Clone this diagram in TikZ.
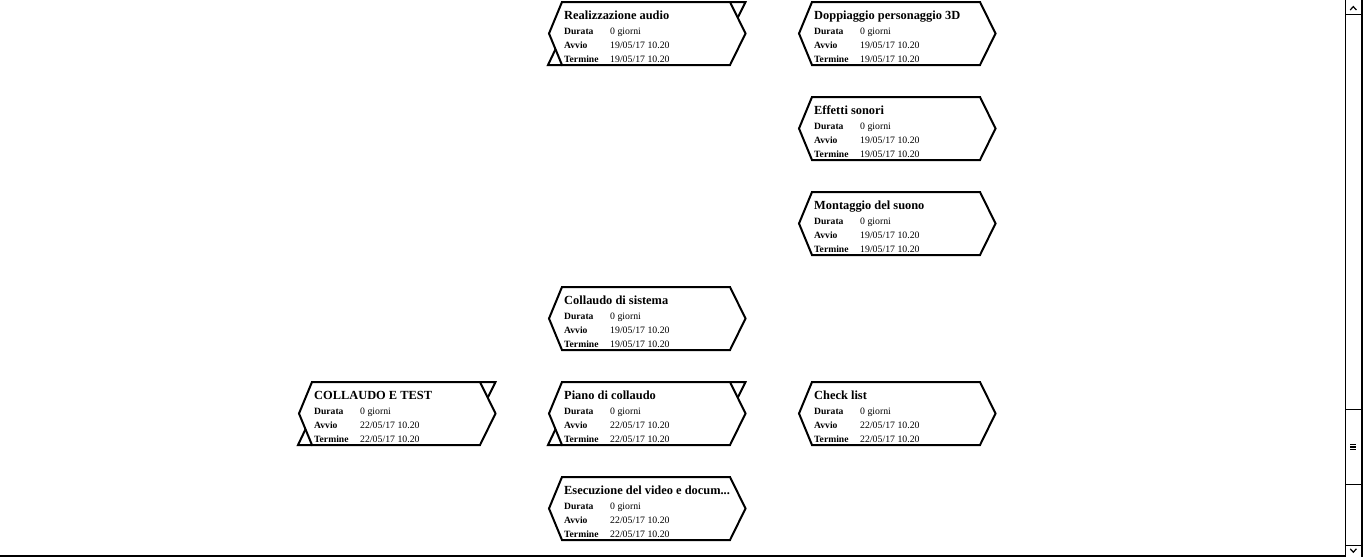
\documentclass[tikz,border=0pt]{standalone}
\usepackage{fontspec}
\setmainfont{Liberation Serif}
\begin{document}
\begin{tikzpicture}[x=1pt,y=-1pt,
  taskedge/.style={line width=2pt, line join=miter},
  tasktitle/.style={anchor=base west, inner sep=0pt, font=\fontsize{12.4}{13}\selectfont\bfseries},
  tasklabel/.style={anchor=base west, inner sep=0pt, font=\fontsize{9.6}{10}\selectfont\bfseries},
  taskvalue/.style={anchor=base west, inner sep=0pt, font=\fontsize{9.8}{10}\selectfont},
  scrollline/.style={line width=1pt},
  scrollglyph/.style={line width=1.2pt, line join=miter}]
\useasboundingbox (0,0) rectangle (1363,557);

% One task box: name, left tip x, top y, title, duration, start, finish
\newcommand\tasknode[7]{%
  \begin{scope}[shift={(#2,#3)}]
    \draw[taskedge] (13,0) -- (181,0) -- (196.5,31.5) -- (181,63) -- (13,63) -- (0,31.5) -- cycle;
    \node[tasktitle] (#1-title) at (15,17.5) {#4};
    \node[tasklabel] (#1-durl) at (15,32.5) {Durata};
    \node[taskvalue] (#1-durv) at (61,32.5) {#5};
    \node[tasklabel] (#1-avvl) at (15,46.5) {Avvio};
    \node[taskvalue] (#1-avvv) at (61,46.5) {#6};
    \node[tasklabel] (#1-terl) at (15,60.5) {Termine};
    \node[taskvalue] (#1-terv) at (61,60.5) {#7};
  \end{scope}}

% Corner flags of a summary task
\newcommand\summaryflags[2]{%
  \begin{scope}[shift={(#1,#2)}]
    \draw[taskedge] (181,0) -- (196.5,0) -- (188.75,15.75);
    \draw[taskedge] (13,63) -- (-1,63) -- (6.5,47.25);
  \end{scope}}

% Column 1
\tasknode{ct}{299}{382}{COLLAUDO E TEST}{0 giorni}{22/05/17 10.20}{22/05/17 10.20}
\summaryflags{299}{382}

% Column 2
\tasknode{ra}{549}{2}{Realizzazione audio}{0 giorni}{19/05/17 10.20}{19/05/17 10.20}
\summaryflags{549}{2}
\tasknode{cs}{549}{287}{Collaudo di sistema}{0 giorni}{19/05/17 10.20}{19/05/17 10.20}
\tasknode{pc}{549}{382}{Piano di collaudo}{0 giorni}{22/05/17 10.20}{22/05/17 10.20}
\summaryflags{549}{382}
\tasknode{ev}{549}{477}{Esecuzione del video e docum...}{0 giorni}{22/05/17 10.20}{22/05/17 10.20}

% Column 3
\tasknode{dp}{799}{2}{Doppiaggio personaggio 3D}{0 giorni}{19/05/17 10.20}{19/05/17 10.20}
\tasknode{es}{799}{97}{Effetti sonori}{0 giorni}{19/05/17 10.20}{19/05/17 10.20}
\tasknode{ms}{799}{192}{Montaggio del suono}{0 giorni}{19/05/17 10.20}{19/05/17 10.20}
\tasknode{cl}{799}{382}{Check list}{0 giorni}{22/05/17 10.20}{22/05/17 10.20}

% Window frame: bottom edge and vertical scroll bar
\draw[line width=1.5pt] (0,556) -- (1346,556);
\draw[scrollline] (1345.5,0) -- (1345.5,557);
\draw[line width=2.5pt] (1361.8,0) -- (1361.8,557);
\draw[scrollline] (1345.5,14.5) -- (1360.5,14.5);
\draw[scrollline] (1345.5,409.5) -- (1360.5,409.5);
\draw[scrollline] (1345.5,484.5) -- (1360.5,484.5);
\draw[scrollline] (1345.5,545) -- (1360.5,545);
\draw[scrollglyph] (1350.2,10) -- (1353.3,6.6) -- (1356.4,10);
\draw[scrollglyph] (1350.2,548.8) -- (1353.3,552.2) -- (1356.4,548.8);
\foreach \yy in {444.3,447,449.7}
  \draw[line width=1.3pt] (1350.3,\yy) -- (1356.3,\yy);
\end{tikzpicture}
\end{document}
